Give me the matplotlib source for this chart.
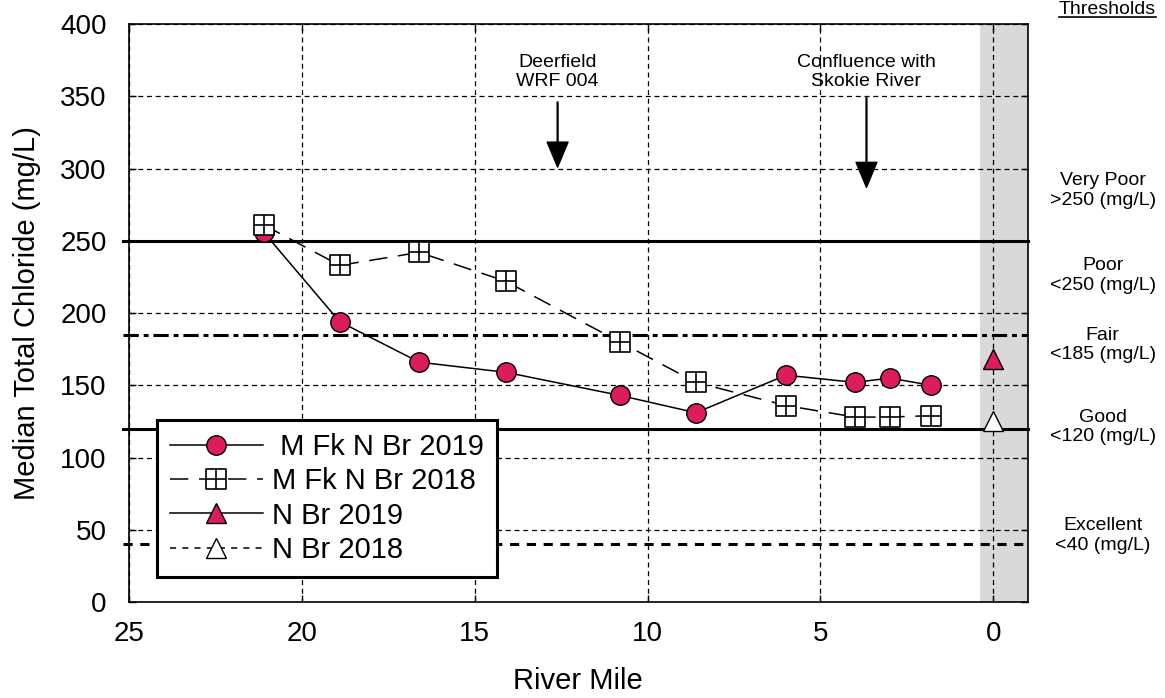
import numpy as np
import matplotlib
matplotlib.use("Agg")
import matplotlib.pyplot as plt
from matplotlib.path import Path
from matplotlib.lines import Line2D

plt.rcParams['font.family'] = ['Liberation Sans', 'DejaVu Sans']

# river miles of the Middle Fork stations
river_mile = [21.1, 18.9, 16.6, 14.1, 10.8, 8.6, 6.0, 4.0, 3.0, 1.8]
mfk_2019 = [256, 194, 166, 159, 143, 131, 157, 152, 155, 150]
mfk_2018 = [261, 233, 242, 222, 180, 152, 136, 128, 128, 129]

# North Branch station at the confluence
nbr_mile = [0.0]
nbr_2019 = [168]
nbr_2018 = [125]

# threshold lines and their labels
thresh_values = [250, 185, 120, 40]
thresh_labels = ["Very Poor\n>250 (mg/L)", "Poor\n<250 (mg/L)", "Fair\n<185 (mg/L)",
                 "Good\n<120 (mg/L)", "Excellent\n<40 (mg/L)"]
thresh_label_y = [285, 226, 178, 121, 46]

landmarks = ["Deerfield\nWRF 004", "Confluence with\nSkokie River"]
landmark_mile = [12.6, 3.67]

RED = '#DD1C5A'

# square with a cross through it
grid_sq = Path(
    [(-1, -1), (1, -1), (1, 1), (-1, 1), (-1, -1),
     (0, -1), (0, 1), (-1, 0), (1, 0)],
    [Path.MOVETO, Path.LINETO, Path.LINETO, Path.LINETO, Path.CLOSEPOLY,
     Path.MOVETO, Path.LINETO, Path.MOVETO, Path.LINETO])

fig = plt.figure(figsize=(11.65, 6.98), dpi=100)
ax = fig.add_axes([0.1105, 0.1375, 0.7719, 0.828])

ax.set_xlim(25, -1)
ax.set_ylim(0, 400)
ax.set_xticks([25, 20, 15, 10, 5, 0])
ax.set_yticks(np.arange(0, 401, 50))
ax.tick_params(direction='in', length=5, width=1, labelsize=20,
               top=True, right=True)
ax.tick_params(axis='y', pad=16)
ax.tick_params(axis='x', pad=14)
for sp in ax.spines.values():
    sp.set_linewidth(1.2)

ax.grid(True, color='black', linestyle=(0, (4, 3)), linewidth=0.9)
ax.axvspan(0.375, -1, color='#D9D9D9', zorder=0.2, lw=0)

# threshold lines
styles = [dict(ls='-'), dict(dashes=(5, 1.6, 1.6, 1.6)), dict(ls='-'), dict(dashes=(3, 2.5))]
for val, st in zip(thresh_values, styles):
    ax.axhline(val, xmin=-0.006, xmax=1, color='black', lw=2.2, zorder=1.5,
               clip_on=False, **st)

ax.plot(river_mile, mfk_2019, color='black', lw=1.1, marker='o', ms=14,
        mfc=RED, mec='black', mew=1, label=' M Fk N Br 2019', zorder=4)
ax.plot(river_mile, mfk_2018, color='black', lw=1.1, dashes=(12, 7),
        marker=grid_sq, ms=14, mfc='white', mec='black', mew=1.2,
        label='M Fk N Br 2018', zorder=5)
ax.plot(nbr_mile, nbr_2019, color='black', lw=1.1, marker='^', ms=15,
        mfc=RED, mec='black', mew=1, label='N Br 2019', zorder=4)
ax.plot(nbr_mile, nbr_2018, color='black', lw=1.1, dashes=(4, 4), marker='^', ms=15,
        mfc='white', mec='black', mew=1, label='N Br 2018', zorder=4)

leg = ax.legend(loc='lower left', bbox_to_anchor=(0.031, 0.043), borderaxespad=0,
                fontsize=21, numpoints=1, handlelength=3.2, labelspacing=0.22,
                handletextpad=0.3, borderpad=0.45, fancybox=False, framealpha=1,
                edgecolor='black')
leg.get_frame().set_linewidth(2.2)
leg.set_zorder(6)

# landmarks along the river
for name, mile in zip(landmarks, landmark_mile):
    ax.text(mile, 367, name, ha='center', va='center', fontsize=14, linespacing=1.15)
for mile, top, tip in zip(landmark_mile, [346, 349], [301, 287]):
    ax.annotate('', xy=(mile, tip), xytext=(mile, top),
                arrowprops=dict(facecolor='black', edgecolor='black', width=0.6,
                                headwidth=15, headlength=18))

# threshold labels on the right
for lab, y in zip(thresh_labels, thresh_label_y):
    ax.text(1.083, y, lab, transform=ax.get_yaxis_transform(), ha='center',
            va='center', fontsize=14, linespacing=1.2, clip_on=False)

th = ax.text(1.088, 1.0, "Thresholds", transform=ax.transAxes, ha='center',
             va='bottom', fontsize=14)
th.set_position((1.088, 1.0))

ax.set_xlabel("River Mile", fontsize=21)
ax.set_ylabel("Median Total Chloride (mg/L)", fontsize=21)
ax.xaxis.set_label_coords(0.5, -0.112)
ax.yaxis.set_label_coords(-0.098, 0.5)

# keep the underlined heading just inside the top edge
fig.canvas.draw()
bb = th.get_window_extent()
top_px = fig.bbox.height - 1
shift = top_px - bb.y1
th.set_transform(ax.transAxes + matplotlib.transforms.Affine2D().translate(0, shift))
fig.canvas.draw()
bb = th.get_window_extent()
fig.add_artist(Line2D([bb.x0, bb.x1], [bb.y0 + 1, bb.y0 + 1], transform=None,
                      color='black', lw=1.2))

fig.savefig("out.png", dpi=100)
